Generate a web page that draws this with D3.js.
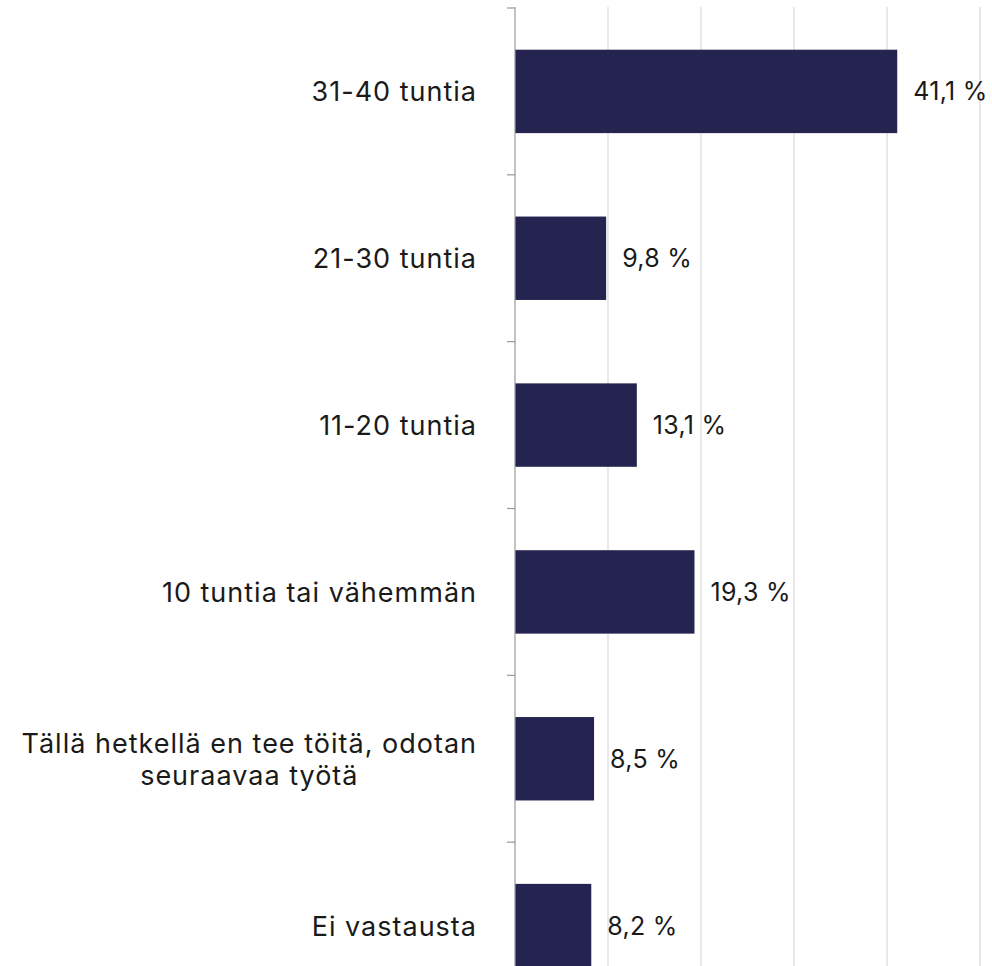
<!DOCTYPE html>
<html><head><meta charset="utf-8">
<script src="https://cdn.jsdelivr.net/npm/d3@7"></script>
<style>html,body{margin:0;padding:0;background:#fff;overflow:hidden}</style>
</head><body>
<svg id="c" width="992" height="966"></svg>
<script>
const categories = ["31-40 tuntia","21-30 tuntia","11-20 tuntia","10 tuntia tai vähemmän","Tällä hetkellä en tee töitä, odotan|seuraavaa työtä","Ei vastausta"];
const values = [41.1, 9.8, 13.1, 19.3, 8.5, 8.2];
const valueLabels = ["41,1 %","9,8 %","13,1 %","19,3 %","8,5 %","8,2 %"];
const xTicks = [0,10,20,30,40,50];

const svg = d3.select("#c");
const font = "Inter, 'Noto Sans', sans-serif";
const x = d3.scaleLinear().domain([0,50]).range([515,980]);
const y = d3.scaleBand().domain(categories).range([8,1009]).paddingInner(0.5).paddingOuter(0.25);

// gridlines
svg.append("g").selectAll("line").data(xTicks.slice(1)).join("line")
  .attr("x1",d=>x(d)).attr("x2",d=>x(d)).attr("y1",7).attr("y2",966)
  .attr("stroke","#d9d9d9").attr("stroke-width",1.2);

// bars
svg.append("g").selectAll("rect").data(categories).join("rect")
  .attr("x",x(0)).attr("y",d=>y(d)).attr("width",(d,i)=>x(values[i])-x(0))
  .attr("height",y.bandwidth()).attr("fill","#252450");

// axis
const step = y.step();
const r0 = y.range()[0];
svg.append("line").attr("x1",x(0)).attr("x2",x(0)).attr("y1",r0-1).attr("y2",966)
  .attr("stroke","#9a9a9a").attr("stroke-width",1.2);
svg.append("g").selectAll("line").data(d3.range(categories.length)).join("line")
  .attr("x1",x(0)-8).attr("x2",x(0)).attr("y1",i=>r0+i*step).attr("y2",i=>r0+i*step)
  .attr("stroke","#9a9a9a").attr("stroke-width",1.2);

// category labels
const lab = svg.append("g").attr("font-family",font).attr("font-size",27)
  .attr("letter-spacing","1px").attr("fill","#1a1a1a");
categories.forEach((c,i)=>{
  const lines = c.split("|");
  const cy = y(c)+y.bandwidth()/2;
  const lh = 32;
  const t = lab.append("text").attr("dominant-baseline","central");
  lines.forEach((l,j)=>{
    t.append("tspan").attr("y",cy+(j-(lines.length-1)/2)*lh).text(l);
  });
  const tsp = t.selectAll("tspan").nodes();
  const widths = tsp.map(n=>n.getComputedTextLength());
  const maxW = Math.max(...widths);
  const right = 477;
  const cx = right - maxW/2;
  t.attr("text-anchor","middle");
  t.selectAll("tspan").attr("x",cx);
});

// value labels
svg.append("g").attr("font-family",font).attr("font-size",25).attr("letter-spacing","0.3px").attr("fill","#1a1a1a")
  .selectAll("text").data(categories).join("text")
  .attr("x",(d,i)=>x(values[i])+16).attr("y",d=>y(d)+y.bandwidth()/2)
  .attr("dominant-baseline","central").text((d,i)=>valueLabels[i]);
</script>
</body></html>
